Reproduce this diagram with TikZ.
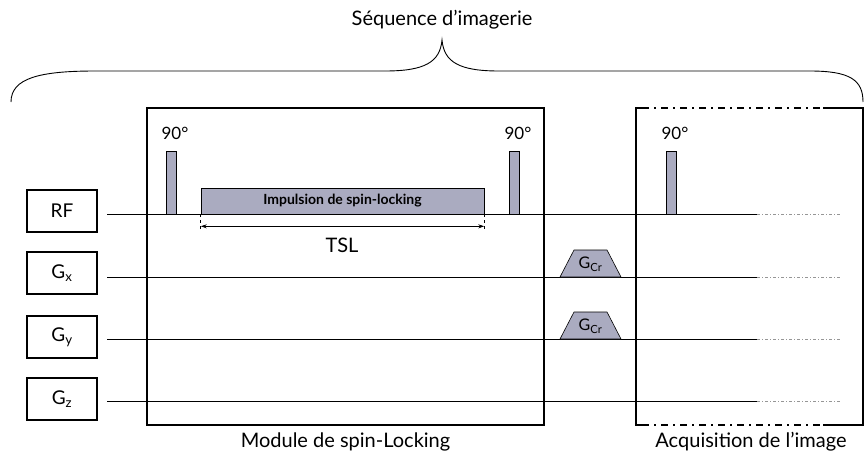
\documentclass[tikz,border=0pt]{standalone}
\usepackage{fontspec}
\setmainfont{Lato}
\usetikzlibrary{positioning,arrows.meta}
\definecolor{pulsegray}{RGB}{170,171,192}
\definecolor{fadegray}{RGB}{150,150,150}

\begin{document}
\begin{tikzpicture}[
        x=1pt, y=-1pt,
        chanbox/.style={draw, line width=2.2pt, minimum width=70pt, minimum height=42pt, inner sep=0pt, font=\fontsize{19}{19}\selectfont},
        chanline/.style={line width=0.8pt},
        fadeline/.style={line width=0.6pt, fadegray, dash pattern=on 3pt off 2pt on 1pt off 2pt},
        pulse/.style={draw, fill=pulsegray, line width=0.6pt},
        modbox/.style={draw, line width=1.3pt, inner sep=0pt},
        dashdot/.style={line width=1.3pt, dash pattern=on 7pt off 5pt on 2pt off 5pt},
        deg/.style={font=\fontsize{17}{17}\selectfont},
        bigtext/.style={font=\fontsize{20}{20}\selectfont}
    ]
        \useasboundingbox (0,0) rectangle (866,464);

        % Channel labels and lines
        \node[chanbox] (rf) at (62,211) {RF};
        \node[chanbox] (gx) at (62,273) {G\textsubscript{x}};
        \node[chanbox] (gy) at (62,337) {G\textsubscript{y}};
        \node[chanbox] (gz) at (62,399) {G\textsubscript{z}};
        \foreach \n/\y in {rf/214, gx/277, gy/339, gz/401} {
            \coordinate (\n-end) at (757,\y);
            \draw[chanline] ([xshift=9pt]\n.east |- \n-end) -- (\n-end);
            \draw[fadeline] (\n-end) -- ++(83,0);
        }

        % Spin-locking module
        \node[modbox, minimum width=397pt, minimum height=317pt] (module) at (345.5,266.5) {};
        \node[bigtext, below=4pt of module] (modlabel) {Module de spin-Locking};

        % Image acquisition
        \draw[modbox] (642,108) -- (636,108) -- (636,425) -- (642,425);
        \draw[dashdot] (642,108) -- (823,108);
        \draw[dashdot] (642,425) -- (823,425);
        \draw[modbox] (823,108) -- (863,108) -- (863,425) -- (823,425);
        \coordinate (acq) at (751,425);
        \node[bigtext, below=4pt of acq] (acqlabel) {Acquisition de l'image};

        % 90 degree pulses
        \foreach \x in {166, 509, 666} {
            \draw[pulse] (\x,214) rectangle ++(10,-63);
            \node[deg] at (\x+9,133) {90°};
        }

        % Spin-locking pulse and TSL
        \node[pulse, minimum width=283pt, minimum height=26pt, inner sep=0pt,
            font=\bfseries\fontsize{14}{14}\selectfont] (slp) at (342.5,201) {Impulsion de spin-locking};
        \draw[dashed, line width=0.5pt] (slp.south west) -- ++(0,18);
        \draw[dashed, line width=0.5pt] (slp.south east) -- ++(0,18);
        \draw[{Stealth[length=6pt,width=4pt]}-{Stealth[length=6pt,width=4pt]}, line width=0.8pt]
            ([yshift=-12pt]slp.south west) -- ([yshift=-12pt]slp.south east);
        \node[bigtext] (tsl) at (342,245) {TSL};

        % Crusher gradients
        \foreach \y in {277, 339} {
            \draw[pulse] (560,\y) -- (574,\y-27) -- (607,\y-27) -- (621,\y) -- cycle;
            \node[font=\fontsize{16}{16}\selectfont] at (590.5,\y-13) {G\textsubscript{Cr}};
        }

        % Brace over the sequence
        \draw[line width=0.9pt] (11,102) .. controls (11,78) and (40,71) .. (95,71) -- (385,71)
            .. controls (425,71) and (440,62) .. (442,40)
            .. controls (444,62) and (459,71) .. (499,71) -- (810,71)
            .. controls (850,71) and (863,80) .. (863,102);
        \node[bigtext] (title) at (442,20) {Séquence d'imagerie};
    \end{tikzpicture}
\end{document}
